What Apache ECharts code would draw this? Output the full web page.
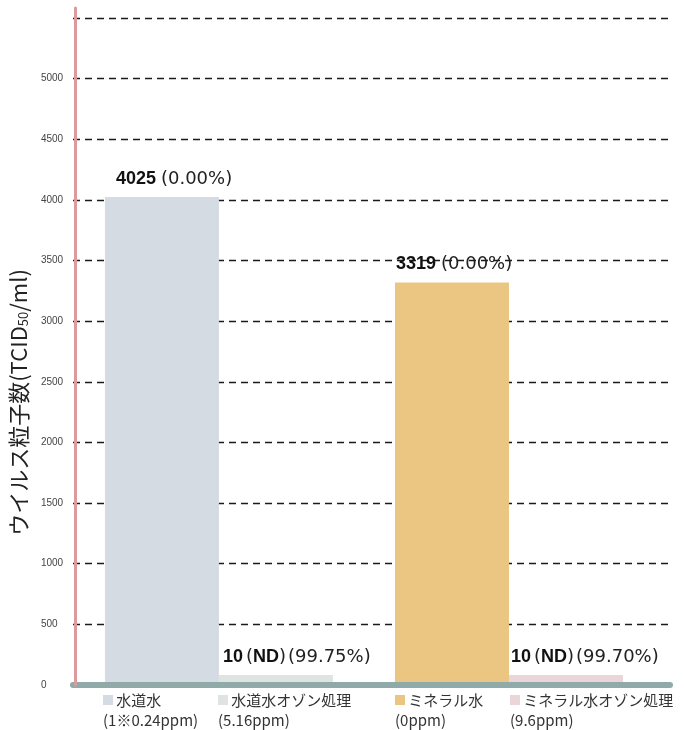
<!DOCTYPE html>
<html>
<head>
<meta charset="utf-8">
<script src="https://cdn.jsdelivr.net/npm/echarts@6/dist/echarts.min.js"></script>
<style>
html,body{margin:0;padding:0;background:#fff;}
#chart{width:684px;height:730px;}
</style>
</head>
<body>
<div id="chart"></div>
<script>
// ---- data ----
const categories = ['水道水', 'ミネラル水'];
const seriesNames = ['水道水', '水道水オゾン処理', 'ミネラル水', 'ミネラル水オゾン処理'];
const seriesCategory = [0, 0, 1, 1];
const seriesStack = ['untreated', 'ozone', 'untreated', 'ozone'];
const concentrations = ['(1※0.24ppm)', '(5.16ppm)', '(0ppm)', '(9.6ppm)'];
const virusCounts = [4025, 10, 3319, 10];
const detectionNotes = ['', 'ND', '', 'ND'];
const reductionRates = ['0.00%', '99.75%', '0.00%', '99.70%'];
const yMin = 0;
const yMax = 5500;
const yInterval = 500;

// ---- layout / styles ----
const colors = ['#d5dbe3', '#dfe4e0', '#eac682', '#ebd5d8'];
const labelOffsets = [11, 4, 1, 2];
const legendLeft = [98, 213, 390, 505];
const plotTop = 18, plotBottomY = 685, axisLineTop = 8;
// the red axis line runs a little above the top grid line: stretch axis 0 so its scale matches axis 1
const axis0Max = yMax * (plotBottomY - axisLineTop) / (plotBottomY - plotTop);

const chart = echarts.init(document.getElementById('chart'));

function labelText(i) {
  let s = '{b|' + virusCounts[i] + '}';
  if (detectionNotes[i]) s += '{n|(}{k|' + detectionNotes[i] + '}{n|)}';
  s += '{m|(' + reductionRates[i] + ')}';
  return s;
}

const series = seriesNames.map((name, i) => ({
  name: name,
  type: 'bar',
  xAxisIndex: 0,
  yAxisIndex: 0,
  stack: seriesStack[i],
  barWidth: 114,
  barGap: '0%',
  barMinHeight: 10,
  itemStyle: { color: colors[i] },
  data: categories.map((c, ci) => ci === seriesCategory[i] ? virusCounts[i] : '-'),
  label: {
    show: true,
    position: [labelOffsets[i], -7],
    verticalAlign: 'bottom',
    formatter: () => labelText(i),
    rich: {
      b: { fontFamily: 'Liberation Sans', fontWeight: 'bold', fontSize: 18, color: '#111', lineHeight: 22, padding: [0, 3, 0, 0] },
      k: { fontFamily: 'Liberation Sans', fontWeight: 'bold', fontSize: 18, color: '#111', lineHeight: 22 },
      n: { fontFamily: 'DejaVu Sans', fontSize: 18, color: '#222', lineHeight: 22 },
      m: { fontFamily: 'DejaVu Sans', fontSize: 18, color: '#222', lineHeight: 22, padding: [0, 0, 0, 2] }
    }
  },
  emphasis: { disabled: true }
}));

const legends = seriesNames.map((name, i) => ({
  data: [{ name: name, icon: 'none' }],
  left: legendLeft[i],
  top: 690,
  padding: 0,
  itemWidth: 0,
  itemHeight: 40,
  selectedMode: false,
  formatter: (n) => '{sq| }{a| ' + n + '}\n{p|' + concentrations[seriesNames.indexOf(n)] + '}',
  textStyle: {
    rich: {
      sq: { width: 10, height: 10, backgroundColor: colors[i], fontSize: 15, lineHeight: 20 },
      a: { fontFamily: 'Noto Sans CJK JP', fontSize: 15, color: '#333', lineHeight: 20 },
      p: { fontFamily: 'Noto Sans CJK JP', fontSize: 15, color: '#333', lineHeight: 20 }
    }
  }
}));

chart.setOption({
  animation: false,
  backgroundColor: '#fff',
  legend: legends,
  grid: [
    { left: 71, right: 30, top: axisLineTop, bottom: 730 - plotBottomY },
    { left: 73, right: 14, top: plotTop, bottom: 730 - plotBottomY }
  ],
  xAxis: [
    {
      type: 'category', gridIndex: 0, data: categories,
      axisLine: { show: false }, axisTick: { show: false }, axisLabel: { show: false }
    },
    {
      type: 'category', gridIndex: 1, data: [''], z: 10,
      axisLine: { show: true, lineStyle: { color: '#8faaa9', width: 6 } },
      axisTick: { show: false }, axisLabel: { show: false }
    }
  ],
  yAxis: [
    {
      type: 'value', gridIndex: 0, min: yMin, max: axis0Max, interval: yInterval, z: 11,
      offset: -1,
      name: 'ウイルス粒子数(TCID{s|50}/ml)',
      nameLocation: 'middle',
      nameGap: 42,
      nameTextStyle: {
        fontFamily: 'Noto Sans CJK JP', fontSize: 22, color: '#222',
        padding: [0, 112, 0, 0],
        rich: { s: { fontFamily: 'Noto Sans CJK JP', fontSize: 13, color: '#222', verticalAlign: 'bottom' } }
      },
      axisLine: { show: true, lineStyle: { color: '#dc9a9c', width: 3 } },
      axisTick: { show: false },
      splitLine: { show: false },
      axisLabel: {
        showMaxLabel: false, align: 'left', margin: 34,
        formatter: (v) => (v < yMax ? String(v) : ''),
        fontFamily: 'Liberation Sans', fontSize: 10, color: '#444'
      }
    },
    {
      type: 'value', gridIndex: 1, min: yMin, max: yMax, interval: yInterval,
      axisLine: { show: false }, axisTick: { show: false }, axisLabel: { show: false },
      splitLine: { show: true, lineStyle: { color: '#1a1a1a', width: 1.3, type: [7, 5] } }
    }
  ],
  series: series
});
</script>
</body>
</html>
